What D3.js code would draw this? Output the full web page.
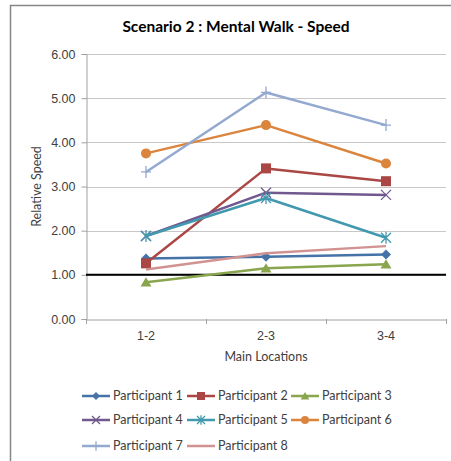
<!DOCTYPE html>
<html>
<head>
<meta charset="utf-8">
<script src="https://cdn.jsdelivr.net/npm/d3@7"></script>
<style>
  body { margin: 0; background: #fff; }
  svg { display: block; font-family: "Lato", "Open Sans", sans-serif; }
</style>
</head>
<body>
<div id="chart"></div>
<script>
const categories = ["1-2", "2-3", "3-4"]
const yTicks = [0, 1, 2, 3, 4, 5, 6]

const participant1 = [1.37, 1.41, 1.46]
const participant2 = [1.26, 3.41, 3.12]
const participant3 = [0.83, 1.15, 1.24]
const participant4 = [1.88, 2.86, 2.81]
const participant5 = [1.88, 2.74, 1.84]
const participant6 = [3.75, 4.39, 3.52]
const participant7 = [3.33, 5.13, 4.39]
const participant8 = [1.12, 1.49, 1.65]

const seriesNames = ["Participant 1", "Participant 2", "Participant 3", "Participant 4",
  "Participant 5", "Participant 6", "Participant 7", "Participant 8"]
const seriesValues = [participant1, participant2, participant3, participant4,
  participant5, participant6, participant7, participant8]
const seriesColors = ["#4572A7", "#AA4643", "#89A54E", "#71588F",
  "#4198AF", "#DB843D", "#93A9CF", "#D19392"]
const seriesMarkers = ["diamond", "square", "triangle", "x", "star", "circle", "plus", "none"]

const totalWidth = 451
const totalHeight = 461
const plot = { left: 86, right: 446, top: 54, bottom: 319 }
const labelSize = "12.5px"

const svg = d3.select("#chart")
  .append("svg")
  .attr("width", totalWidth)
  .attr("height", totalHeight)

// outer chart frame
svg.append("rect")
  .attr("x", 10.5)
  .attr("y", 5.5)
  .attr("width", 460)
  .attr("height", 470)
  .attr("fill", "none")
  .attr("stroke", "#868686")
  .attr("stroke-width", 1.5)

const x = d3.scaleBand()
  .domain(categories)
  .range([plot.left, plot.right])

const y = d3.scaleLinear()
  .domain([0, 6])
  .range([plot.bottom, plot.top])

// gridlines
svg.append("g")
  .selectAll("line")
  .data(yTicks.filter(d => d > 0))
  .enter()
  .append("line")
  .attr("x1", plot.left)
  .attr("x2", plot.right)
  .attr("y1", d => Math.round(y(d)) + 0.5)
  .attr("y2", d => Math.round(y(d)) + 0.5)
  .attr("stroke", "#c8c8c8")
  .attr("stroke-width", 1.2)

// y axis
const yAxis = svg.append("g")
  .attr("transform", `translate(${plot.left + 0.5},0)`)
  .call(d3.axisLeft(y).tickValues(yTicks).tickFormat(d3.format(".2f")).tickSize(5).tickPadding(6))
yAxis.select(".domain").attr("stroke", "#a0a0a0")
yAxis.selectAll(".tick line").attr("stroke", "#a0a0a0")
yAxis.selectAll(".tick text")
  .attr("fill", "#404040")
  .style("font-size", labelSize)

// x axis
const xAxis = svg.append("g")
  .attr("transform", `translate(0,${plot.bottom + 0.5})`)
  .call(d3.axisBottom(x).tickSize(0).tickPadding(12))
xAxis.select(".domain").attr("stroke", "#a0a0a0")
xAxis.selectAll(".tick text")
  .attr("fill", "#404040")
  .style("font-size", labelSize)

// x tick marks between categories
svg.append("g")
  .selectAll("line")
  .data(categories.concat(["end"]))
  .enter()
  .append("line")
  .attr("x1", (d, i) => Math.round(plot.left + i * x.bandwidth()) + 0.5)
  .attr("x2", (d, i) => Math.round(plot.left + i * x.bandwidth()) + 0.5)
  .attr("y1", plot.bottom)
  .attr("y2", plot.bottom + 5)
  .attr("stroke", "#a0a0a0")

// reference line at 1.00
svg.append("line")
  .attr("x1", plot.left)
  .attr("x2", plot.right)
  .attr("y1", y(1))
  .attr("y2", y(1))
  .attr("stroke", "#000")
  .attr("stroke-width", 2)

const cx = d => x(d) + x.bandwidth() / 2

function drawMarker(g, type, color, size) {
  const s = size
  if (type === "diamond") {
    g.append("path").attr("d", `M0,${-s}L${s},0L0,${s}L${-s},0Z`).attr("fill", color)
  } else if (type === "square") {
    g.append("rect").attr("x", -s).attr("y", -s).attr("width", 2 * s).attr("height", 2 * s).attr("fill", color)
  } else if (type === "triangle") {
    g.append("path").attr("d", `M0,${-s}L${s * 1.1},${s * 0.85}L${-s * 1.1},${s * 0.85}Z`).attr("fill", color)
  } else if (type === "circle") {
    g.append("circle").attr("r", s).attr("fill", color)
  } else if (type === "x") {
    g.append("path").attr("d", `M${-s},${-s}L${s},${s}M${-s},${s}L${s},${-s}`)
      .attr("stroke", color).attr("stroke-width", 1.3)
  } else if (type === "star") {
    g.append("path").attr("d", `M${-s},${-s}L${s},${s}M${-s},${s}L${s},${-s}M0,${-s * 1.2}L0,${s * 1.2}`)
      .attr("stroke", color).attr("stroke-width", 1.3)
  } else if (type === "plus") {
    g.append("path").attr("d", `M${-s},0L${s},0M0,${-s * 1.2}L0,${s * 1.2}`)
      .attr("stroke", color).attr("stroke-width", 1.3)
  }
}

const line = d3.line()
  .x((d, i) => cx(categories[i]))
  .y(d => y(d))

// series lines and markers
seriesValues.forEach((vals, si) => {
  const color = seriesColors[si]
  svg.append("path")
    .datum(vals)
    .attr("d", line)
    .attr("fill", "none")
    .attr("stroke", color)
    .attr("stroke-width", 2.5)
    .attr("stroke-linejoin", "round")

  vals.forEach((v, i) => {
    const g = svg.append("g")
      .attr("transform", `translate(${cx(categories[i])},${y(v)})`)
    drawMarker(g, seriesMarkers[si], color, 5)
  })
})

// title
svg.append("text")
  .attr("x", 236)
  .attr("y", 32)
  .attr("text-anchor", "middle")
  .style("font-size", "15.5px")
  .style("font-weight", "bold")
  .attr("fill", "#000")
  .text("Scenario 2 : Mental Walk - Speed")

// axis titles
svg.append("text")
  .attr("transform", `translate(41,${(plot.top + plot.bottom) / 2}) rotate(-90)`)
  .attr("text-anchor", "middle")
  .style("font-size", labelSize)
  .attr("fill", "#404040")
  .text("Relative Speed")

svg.append("text")
  .attr("x", (plot.left + plot.right) / 2)
  .attr("y", 361)
  .attr("text-anchor", "middle")
  .style("font-size", labelSize)
  .attr("fill", "#404040")
  .text("Main Locations")

// legend
const legendCols = [82, 187, 291]
const legendRows = [396, 420, 446]
const legend = svg.append("g")
  .selectAll("g")
  .data(seriesNames)
  .enter()
  .append("g")
  .attr("transform", (d, i) => `translate(${legendCols[i % 3]},${legendRows[Math.floor(i / 3)]})`)

legend.append("line")
  .attr("x1", 0)
  .attr("x2", 28)
  .attr("stroke", (d, i) => seriesColors[i])
  .attr("stroke-width", 2.5)

legend.each(function (d, i) {
  const g = d3.select(this).append("g").attr("transform", "translate(14,0)")
  drawMarker(g, seriesMarkers[i], seriesColors[i], 4)
})

legend.append("text")
  .attr("x", 31)
  .attr("dy", "0.35em")
  .style("font-size", labelSize)
  .attr("fill", "#404040")
  .text(d => d)
</script>
</body>
</html>
